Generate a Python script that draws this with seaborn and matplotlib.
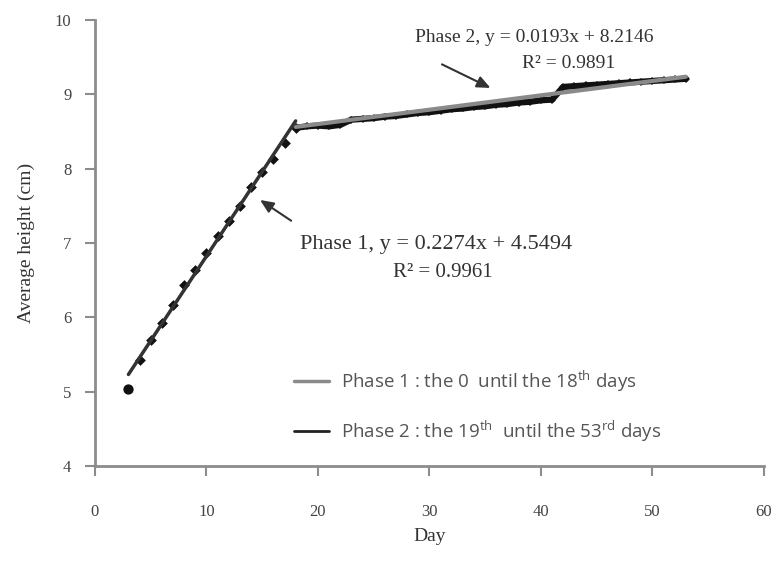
import numpy as np
import pandas as pd
import matplotlib
matplotlib.use("Agg")
import matplotlib.pyplot as plt
import seaborn as sns
from matplotlib.lines import Line2D

# ---- data ----
phase1_days = [3, 4, 5, 6, 7, 8, 9, 10, 11, 12, 13, 14, 15, 16, 17, 18]
phase1_height = [5.03, 5.42, 5.70, 5.93, 6.16, 6.43, 6.64, 6.86, 7.10, 7.30,
                 7.50, 7.76, 7.95, 8.13, 8.34, 8.55]
phase2_days = [18, 19, 20, 21, 22, 23, 24, 25, 26, 27, 28, 29, 30, 31, 32, 33,
               34, 35, 36, 37, 38, 39, 40, 41, 42, 43, 44, 45, 46, 47, 48, 49,
               50, 51, 52, 53]
phase2_height = [8.55, 8.57, 8.58, 8.57, 8.59, 8.66, 8.67, 8.68, 8.70, 8.71,
                 8.73, 8.75, 8.76, 8.78, 8.80, 8.81, 8.83, 8.84, 8.86, 8.87,
                 8.89, 8.90, 8.92, 8.93, 9.10, 9.11, 9.12, 9.13, 9.14, 9.15,
                 9.16, 9.17, 9.18, 9.19, 9.20, 9.21]
fit1_slope, fit1_icpt, fit1_r2 = 0.2274, 4.5494, 0.9961
fit2_slope, fit2_icpt, fit2_r2 = 0.0193, 8.2146, 0.9891
fit1_range = [3, 18]
fit2_range = [18, 53]
x_ticks = [0, 10, 20, 30, 40, 50, 60]
y_ticks = [4, 5, 6, 7, 8, 9, 10]
legend_labels = ["Phase 1 : the 0  until the 18$^{th}$ days",
                 "Phase 2 : the 19$^{th}$  until the 53$^{rd}$ days"]

sns.set_style("white")
plt.rcParams['font.family'] = ['Liberation Serif', 'DejaVu Serif']
plt.rcParams['mathtext.default'] = 'regular'

fig = plt.figure(figsize=(7.76, 5.61), dpi=100)
ax = fig.add_axes([0.1224, 0.1693, 0.8620, 0.7950])

df1 = pd.DataFrame({"Day": phase1_days, "Height": phase1_height})
df2 = pd.DataFrame({"Day": phase2_days, "Height": phase2_height})
fx1 = np.array(fit1_range, dtype=float)
fx2 = np.array(fit2_range, dtype=float)
fit1 = pd.DataFrame({"Day": fx1, "Height": fit1_slope * fx1 + fit1_icpt})
fit2 = pd.DataFrame({"Day": fx2, "Height": fit2_slope * fx2 + fit2_icpt})

# phase 2 data + trend
sns.lineplot(data=df2, x="Day", y="Height", ax=ax, color="#111111", lw=4.5,
             marker="D", markersize=4, markeredgewidth=0, sort=False)
sns.lineplot(data=fit2, x="Day", y="Height", ax=ax, color="#8a8a8a", lw=3.0,
             sort=False)
# phase 1 trend + data
sns.lineplot(data=fit1, x="Day", y="Height", ax=ax, color="#333333", lw=2.5,
             sort=False)
sns.scatterplot(data=df1.iloc[1:], x="Day", y="Height", ax=ax, color="#111111",
                marker="D", s=30, linewidth=0)
sns.scatterplot(data=df1.iloc[:1], x="Day", y="Height", ax=ax, color="#111111",
                marker="o", s=55, linewidth=0)

ax.set_xlim(0, 60)
ax.set_ylim(4, 10)
ax.set_xticks(x_ticks)
ax.set_yticks(y_ticks)
ax.set_xticklabels([str(t) for t in x_ticks])
ax.set_yticklabels([str(t) for t in y_ticks])

for s in ["top", "right"]:
    ax.spines[s].set_visible(False)
for s in ["left", "bottom"]:
    ax.spines[s].set_color("#8c8c8c")
    ax.spines[s].set_linewidth(2.0)
ax.tick_params(axis="x", direction="out", length=7, width=1.5, color="#8c8c8c",
               pad=20, labelsize=12, labelcolor="#444444", bottom=True)
ax.tick_params(axis="y", direction="out", length=7, width=1.5, color="#8c8c8c",
               pad=10, labelsize=12, labelcolor="#444444", left=True)

ax.set_xlabel("Day", fontsize=14, color="#333333", labelpad=6)
ax.set_ylabel("Average height (cm)", fontsize=14, color="#333333", labelpad=14)

arrow_style = dict(arrowstyle="-|>,head_width=0.35,head_length=0.8",
                   color="#333333", lw=1.5)
# phase 1 annotation
ax.annotate("", xy=(14.6, 7.60), xytext=(17.8, 7.28), arrowprops=arrow_style)
ax.text(30.6, 6.98, f"Phase 1, y = {fit1_slope}x + {fit1_icpt}",
        ha="center", va="center", fontsize=16, color="#333333")
ax.text(31.2, 6.60, f"R² = {fit1_r2}", ha="center", va="center",
        fontsize=15, color="#333333")

# phase 2 annotation
ax.annotate("", xy=(35.7, 9.07), xytext=(30.9, 9.42), arrowprops=arrow_style)
ax.text(39.4, 9.76, f"Phase 2, y = {fit2_slope}x + {fit2_icpt}",
        ha="center", va="center", fontsize=14, color="#333333")
ax.text(42.5, 9.42, f"R² = {fit2_r2}", ha="center", va="center",
        fontsize=14, color="#333333")

# legend
handles = [Line2D([], [], color="#8a8a8a", lw=2.5),
           Line2D([], [], color="#222222", lw=2.0)]
leg = ax.legend(handles, legend_labels, loc="lower left",
                bbox_to_anchor=(0.272, 0.012), frameon=False,
                prop={"family": ["Open Sans", "DejaVu Sans"], "size": 13.5},
                labelspacing=1.3, handlelength=1.9, handletextpad=0.6)
for t in leg.get_texts():
    t.set_color("#555555")

fig.savefig("out.png", dpi=100)
